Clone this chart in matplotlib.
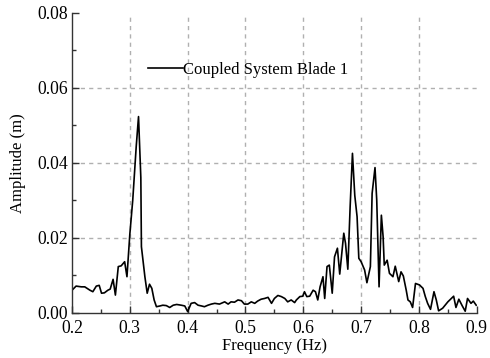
import matplotlib
matplotlib.use("Agg")
import matplotlib.pyplot as plt
from matplotlib.ticker import MultipleLocator, FormatStrFormatter

plt.rcParams['font.family'] = ['Liberation Serif', 'DejaVu Serif']

freq = [0.200, 0.207, 0.216, 0.222, 0.231, 0.236, 0.242, 0.247, 0.251, 0.256,
        0.262, 0.266, 0.271, 0.275, 0.280, 0.285, 0.291, 0.295, 0.300, 0.305,
        0.311, 0.315, 0.319, 0.320, 0.326, 0.330, 0.334, 0.338, 0.342, 0.346,
        0.352, 0.357, 0.363, 0.369, 0.375, 0.381, 0.389, 0.395, 0.400, 0.406,
        0.412, 0.418, 0.424, 0.429, 0.435, 0.441, 0.447, 0.455, 0.464, 0.470,
        0.475, 0.481, 0.487, 0.493, 0.498, 0.504, 0.510, 0.516, 0.521, 0.527,
        0.533, 0.539, 0.545, 0.550, 0.556, 0.562, 0.568, 0.573, 0.579, 0.585,
        0.588, 0.594, 0.599, 0.602, 0.606, 0.611, 0.617, 0.621, 0.625, 0.629,
        0.634, 0.637, 0.641, 0.645, 0.650, 0.654, 0.659, 0.663, 0.666, 0.670,
        0.673, 0.677, 0.681, 0.685, 0.689, 0.693, 0.696, 0.700, 0.706, 0.710,
        0.716, 0.719, 0.724, 0.727, 0.731, 0.735, 0.738, 0.740, 0.745, 0.749,
        0.755, 0.759, 0.765, 0.769, 0.773, 0.778, 0.781, 0.785, 0.789, 0.794,
        0.801, 0.807, 0.811, 0.815, 0.820, 0.826, 0.830, 0.834, 0.841, 0.850,
        0.860, 0.864, 0.869, 0.875, 0.880, 0.884, 0.890, 0.894, 0.899]

amplitude = [0.0060, 0.0071, 0.0069, 0.0069, 0.0060, 0.0056, 0.0071, 0.0073, 0.0052, 0.0053,
             0.0060, 0.0063, 0.0089, 0.0047, 0.0123, 0.0125, 0.0136, 0.0096, 0.0210, 0.0300,
             0.0443, 0.0523, 0.0360, 0.0176, 0.0096, 0.0052, 0.0076, 0.0065, 0.0034, 0.0016,
             0.0018, 0.0020, 0.0019, 0.0014, 0.0020, 0.0022, 0.0020, 0.0018, 0.0003, 0.0025,
             0.0027, 0.0020, 0.0018, 0.0016, 0.0020, 0.0023, 0.0025, 0.0023, 0.0029, 0.0023,
             0.0029, 0.0028, 0.0034, 0.0032, 0.0023, 0.0023, 0.0029, 0.0025, 0.0031, 0.0036,
             0.0038, 0.0041, 0.0025, 0.0038, 0.0046, 0.0043, 0.0038, 0.0029, 0.0034, 0.0027,
             0.0034, 0.0043, 0.0044, 0.0056, 0.0043, 0.0044, 0.0060, 0.0056, 0.0034, 0.0069,
             0.0096, 0.0038, 0.0123, 0.0127, 0.0052, 0.0149, 0.0172, 0.0103, 0.0149, 0.0212,
             0.0185, 0.0116, 0.0283, 0.0425, 0.0313, 0.0256, 0.0145, 0.0136, 0.0114, 0.0080,
             0.0123, 0.0318, 0.0387, 0.0300, 0.0069, 0.0260, 0.0203, 0.0127, 0.0140, 0.0105,
             0.0096, 0.0124, 0.0083, 0.0109, 0.0098, 0.0060, 0.0034, 0.0029, 0.0014, 0.0078,
             0.0074, 0.0065, 0.0043, 0.0025, 0.0009, 0.0056, 0.0034, 0.0005, 0.0012, 0.0029,
             0.0044, 0.0014, 0.0036, 0.0018, 0.0004, 0.0038, 0.0025, 0.0031, 0.0020]

series_label = "Coupled System Blade 1"

fig = plt.figure(figsize=(4.9, 3.58), dpi=100)
ax = fig.add_axes([0.147, 0.1265, 0.826, 0.838])

ax.plot(freq, amplitude, color='black', linewidth=1.2, label=series_label)

ax.set_xlim(0.2, 0.9)
ax.set_ylim(0.0, 0.08)
ax.xaxis.set_major_locator(MultipleLocator(0.1))
ax.xaxis.set_minor_locator(MultipleLocator(0.05))
ax.yaxis.set_major_locator(MultipleLocator(0.02))
ax.yaxis.set_minor_locator(MultipleLocator(0.01))
ax.xaxis.set_major_formatter(FormatStrFormatter('%.1f'))
ax.yaxis.set_major_formatter(FormatStrFormatter('%.2f'))

for side in ('top', 'right'):
    ax.spines[side].set_visible(False)
for side in ('left', 'bottom'):
    ax.spines[side].set_linewidth(1.0)
    ax.spines[side].set_color('#333333')

ax.tick_params(which='both', direction='in', colors='#333333', labelcolor='black',
               labelsize=12.7, top=False, right=False)
ax.tick_params(which='major', length=5, width=1.0)
ax.tick_params(which='minor', length=3, width=1.0)
ax.tick_params(axis='x', which='major', pad=5)
ax.tick_params(axis='y', which='major', pad=3)

ax.grid(True, which='major', linestyle=(0, (3, 3)), color='#b0b0b0', linewidth=1.0)
ax.set_axisbelow(True)

# no grid lines on the axis limits
fig.canvas.draw()
for tick in ax.xaxis.get_major_ticks():
    if abs(tick.get_loc() - 0.2) < 1e-9 or abs(tick.get_loc() - 0.9) < 1e-9:
        tick.gridline.set_visible(False)
for tick in ax.yaxis.get_major_ticks():
    if abs(tick.get_loc() - 0.0) < 1e-9 or abs(tick.get_loc() - 0.08) < 1e-9:
        tick.gridline.set_visible(False)

ax.set_xlabel('Frequency (Hz)', fontsize=12, labelpad=1)
ax.set_ylabel('Amplitude (m)', fontsize=12, labelpad=8)

ax.legend(loc='center left', bbox_to_anchor=(0.188, 0.809), frameon=False,
          fontsize=12, handlelength=2.1, handletextpad=0.0,
          borderpad=0.0, borderaxespad=0.0)

fig.savefig('out.png', dpi=100)
